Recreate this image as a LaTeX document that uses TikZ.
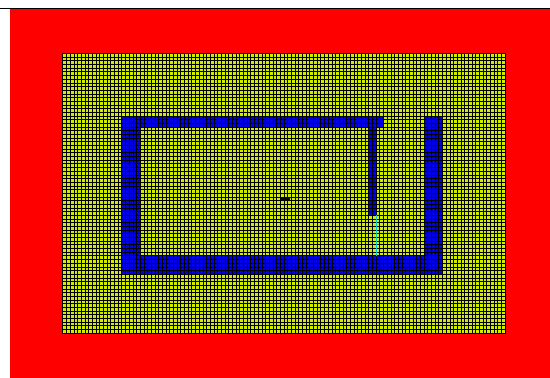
\documentclass[tikz,border=0pt]{standalone}
\usepackage{tikz}

\definecolor{mapred}{RGB}{255,0,0}
\definecolor{freecell}{RGB}{210,236,0}
\definecolor{wallblue}{RGB}{0,0,235}
\definecolor{trackcyan}{RGB}{0,200,210}

\begin{document}
\begin{tikzpicture}[
  x=1pt, y=-1pt,
  wall/.style={fill=wallblue},
  gridline/.style={black, line width=0.45pt},
  frame/.style={draw=black, line width=0.9pt},
]
\useasboundingbox (0,0) rectangle (550,378);
\fill[white] (0,0) rectangle (550,378);

% red surround and top rule
\fill[mapred] (10,9) rectangle (550,378);
\draw[black, line width=1.2pt] (0,8.4) -- (550,8.4);

% occupancy grid, in cell units
\begin{scope}[shift={(62.7,53.3)}, x=3.686pt, y=-3.68pt]
  \fill[freecell] (0,0) rectangle (120,76);

  % walls
  \fill[wall] (16,17) rectangle (87,20);   % top
  \fill[wall] (16,17) rectangle (21,60);   % left
  \fill[wall] (16,55) rectangle (103,60);  % bottom
  \fill[wall] (98,17) rectangle (103,60);  % right
  \fill[wall] (83,17) rectangle (85,44);   % inner stub

  % small marker
  \fill[black] (59.2,39.3) rectangle (61.7,39.9);

  % cell lines
  \foreach \c in {0,...,120}
    \draw[gridline] (\c,0) -- (\c,76);
  \foreach \r in {0,...,76}
    \draw[gridline] (0,\r) -- (120,\r);

  % thin track below the stub
  \draw[trackcyan, line width=0.8pt] (85.1,44) -- (85.1,55);

  \draw[frame] (0,0) rectangle (120,76);
\end{scope}

\end{tikzpicture}
\end{document}
